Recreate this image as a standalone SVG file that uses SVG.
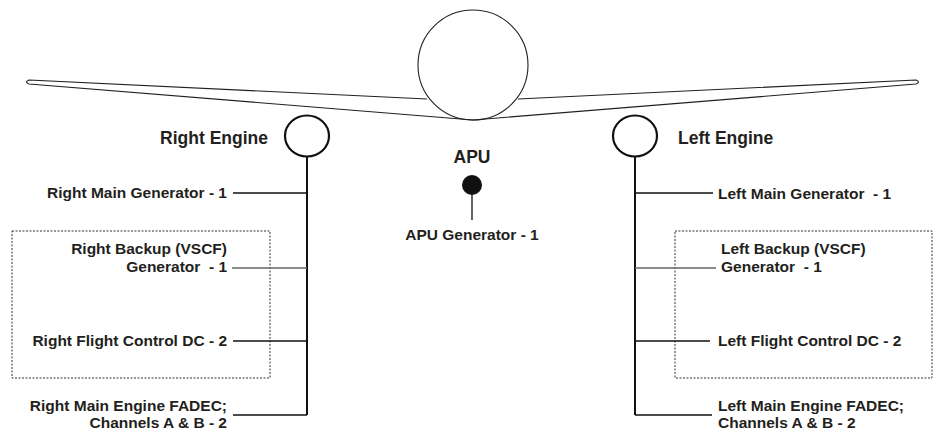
<svg xmlns="http://www.w3.org/2000/svg" width="934" height="431" viewBox="0 0 934 431">
  <style>
    .lbl { font-family: "Liberation Sans", Arial, sans-serif; font-weight: bold; font-size: 15.5px; fill: #231f20; }
    .big { font-family: "Liberation Sans", Arial, sans-serif; font-weight: bold; font-size: 17.5px; fill: #231f20; }
    .wing { fill: none; stroke: #231f20; stroke-width: 1.2; stroke-linejoin: round; }
    .body { fill: #fff; stroke: #231f20; stroke-width: 1.1; }
    .eng { fill: #fff; stroke: #111; stroke-width: 2.2; }
    .trunk { stroke: #111; stroke-width: 2; fill: none; }
    .br { stroke: #111; stroke-width: 1.3; fill: none; }
    .brg { stroke: #666; stroke-width: 1.3; fill: none; }
    .zone { fill: none; stroke: #333; stroke-width: 1; stroke-dasharray: 2 1.5; }
  </style>

  <!-- airframe outline -->
  <g id="airframe">
    <circle class="body" cx="473" cy="65" r="55"/>
    <path class="wing" d="M427,99 L29,80 Q24,82 29,84 L473,120 L916,84 Q921,82 916,80 L518,99"/>
  </g>

  <!-- backup/flight-control zones -->
  <g id="zone-right"><rect class="zone" x="12" y="231" width="258" height="147"/></g>
  <g id="zone-left"><rect class="zone" x="675" y="231" width="257" height="147"/></g>

  <!-- connectors -->
  <g id="connectors">
    <line class="trunk" x1="307" y1="157" x2="307" y2="415"/>
    <line class="br" x1="233" y1="193" x2="307" y2="193"/>
    <line class="brg" x1="232" y1="268" x2="307" y2="268"/>
    <line class="br" x1="233" y1="341" x2="307" y2="341"/>
    <line class="br" x1="233" y1="415" x2="307" y2="415"/>

    <line class="trunk" x1="635" y1="157" x2="635" y2="415"/>
    <line class="br" x1="635" y1="193" x2="713" y2="193"/>
    <line class="brg" x1="635" y1="268" x2="716" y2="268"/>
    <line class="br" x1="635" y1="341" x2="710" y2="341"/>
    <line class="br" x1="635" y1="415" x2="712" y2="415"/>

    <line class="br" x1="472" y1="193" x2="472" y2="220"/>
  </g>

  <!-- right engine -->
  <g id="right-engine">
    <ellipse class="eng" cx="307" cy="136" rx="22" ry="20.5"/>
    <text class="big" x="268" y="144" text-anchor="end">Right Engine</text>
  </g>
  <g id="right-main-gen"><text class="lbl" x="227" y="198" text-anchor="end">Right Main Generator - 1</text></g>
  <g id="right-backup-gen">
    <text class="lbl" x="227" y="254" text-anchor="end">Right Backup (VSCF)</text>
    <text class="lbl" x="227" y="272" text-anchor="end" xml:space="preserve">Generator  - 1</text>
  </g>
  <g id="right-flight-dc"><text class="lbl" x="227" y="346" text-anchor="end">Right Flight Control DC - 2</text></g>
  <g id="right-fadec">
    <text class="lbl" x="227" y="411" text-anchor="end">Right Main Engine FADEC;</text>
    <text class="lbl" x="227" y="428" text-anchor="end">Channels A &amp; B - 2</text>
  </g>

  <!-- APU -->
  <g id="apu">
    <text class="big" x="472" y="163" text-anchor="middle">APU</text>
    <circle cx="472" cy="185" r="10" fill="#111"/>
  </g>
  <g id="apu-gen"><text class="lbl" x="472" y="240" text-anchor="middle">APU Generator - 1</text></g>

  <!-- left engine -->
  <g id="left-engine">
    <ellipse class="eng" cx="635" cy="136" rx="22" ry="20.5"/>
    <text class="big" x="678" y="144">Left Engine</text>
  </g>
  <g id="left-main-gen"><text class="lbl" x="718" y="199" xml:space="preserve">Left Main Generator  - 1</text></g>
  <g id="left-backup-gen">
    <text class="lbl" x="721" y="254">Left Backup (VSCF)</text>
    <text class="lbl" x="721" y="272" xml:space="preserve">Generator  - 1</text>
  </g>
  <g id="left-flight-dc"><text class="lbl" x="718" y="346">Left Flight Control DC - 2</text></g>
  <g id="left-fadec">
    <text class="lbl" x="718" y="411">Left Main Engine FADEC;</text>
    <text class="lbl" x="718" y="428">Channels A &amp; B - 2</text>
  </g>
</svg>
